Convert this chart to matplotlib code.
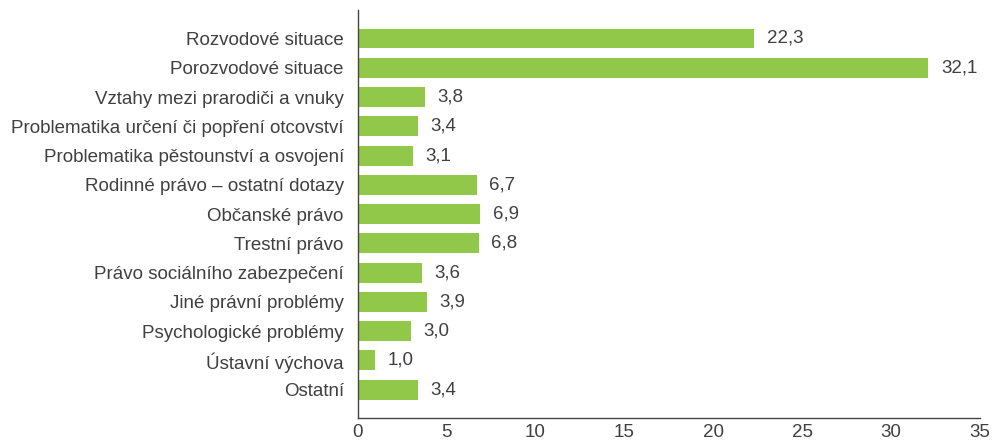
import numpy as np
import matplotlib.pyplot as plt

categories = ["Rozvodové situace", "Porozvodové situace", "Vztahy mezi prarodiči a vnuky",
              "Problematika určení či popření otcovství", "Problematika pěstounství a osvojení",
              "Rodinné právo – ostatní dotazy", "Občanské právo", "Trestní právo",
              "Právo sociálního zabezpečení", "Jiné právní problémy", "Psychologické problémy",
              "Ústavní výchova", "Ostatní"]
values = [22.3, 32.1, 3.8, 3.4, 3.1, 6.7, 6.9, 6.8, 3.6, 3.9, 3.0, 1.0, 3.4]
xticks = [0, 5, 10, 15, 20, 25, 30, 35]

plt.rcParams['font.family'] = ['Liberation Sans', 'DejaVu Sans']
text_color = "#404040"
fs = 13.5

fig = plt.figure(figsize=(9.99, 4.46), dpi=100)
ax = fig.add_axes([0.358, 0.062, 0.623, 0.916])

pos = np.arange(len(categories))
ax.barh(pos, values, height=0.68, color="#92c84a")
for p, v in zip(pos, values):
    ax.text(v + 0.7, p, f"{v:.1f}".replace(".", ","), va="center", ha="left",
            fontsize=fs, color=text_color)

ax.set_yticks(pos)
ax.set_yticklabels(categories, fontsize=fs, color=text_color)
ax.set_ylim(len(categories) - 0.5 + 0.48, -0.98)
ax.set_xlim(0, 35)
ax.set_xticks(xticks)
ax.set_xticklabels([str(t) for t in xticks], fontsize=fs, color=text_color)
ax.tick_params(axis="both", length=0)
ax.tick_params(axis="y", pad=10)
ax.tick_params(axis="x", pad=4)

for s in ["top", "right"]:
    ax.spines[s].set_visible(False)
for s in ["left", "bottom"]:
    ax.spines[s].set_color("#444444")
    ax.spines[s].set_linewidth(1.0)

fig.savefig("out.png", dpi=100)
